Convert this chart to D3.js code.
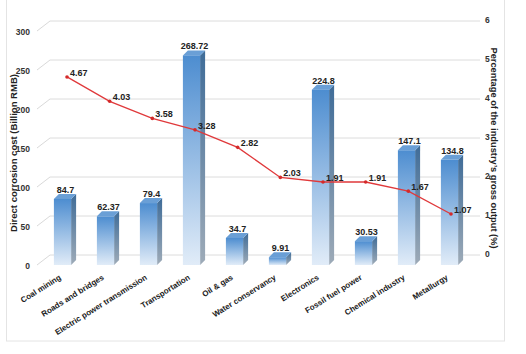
<!DOCTYPE html>
<html>
<head>
<meta charset="utf-8">
<title>Corrosion cost by industry</title>
<script src="https://cdn.jsdelivr.net/npm/d3@7"></script>
<style>
  body { margin: 0; background: #fff; }
  svg text { font-family: "Liberation Sans", Arial, sans-serif; font-weight: bold; }
</style>
</head>
<body>
<div id="chart"></div>
<script>
// data
var categories = ["Coal mining", "Roads and bridges", "Electric power transmission", "Transportation",
  "Oil & gas", "Water conservancy", "Electronics", "Fossil fuel power", "Chemical industry", "Metallurgy"];
var costs = [84.7, 62.37, 79.4, 268.72, 34.7, 9.91, 224.8, 30.53, 147.1, 134.8];
var percents = [4.67, 4.03, 3.58, 3.28, 2.82, 2.03, 1.91, 1.91, 1.67, 1.07];
var leftTicks = [0, 50, 100, 150, 200, 250, 300];
var rightTicks = [0, 1, 2, 3, 4, 5, 6];

var width = 526, height = 354;
var depthX = 5, depthY = -5;   // bar 3d depth
var wallX = 13, wallY = -10;   // back wall offset

var svg = d3.select("#chart").append("svg")
  .attr("width", width)
  .attr("height", height);

var defs = svg.append("defs");
var g1 = defs.append("linearGradient").attr("id", "front").attr("x1", 0).attr("y1", 0).attr("x2", 0).attr("y2", 1);
g1.append("stop").attr("offset", "0%").attr("stop-color", "#4d8dd0");
g1.append("stop").attr("offset", "100%").attr("stop-color", "#e1ecf8");
var g2 = defs.append("linearGradient").attr("id", "side").attr("x1", 0).attr("y1", 0).attr("x2", 0).attr("y2", 1);
g2.append("stop").attr("offset", "0%").attr("stop-color", "#3f6c98");
g2.append("stop").attr("offset", "100%").attr("stop-color", "#9eabb8");

// frame
svg.append("rect")
  .attr("x", 6.5).attr("y", -1)
  .attr("width", 498).attr("height", 342)
  .attr("fill", "none")
  .attr("stroke", "#e4e4e4");

var x = d3.scaleBand()
  .domain(categories)
  .range([41, 471])
  .paddingInner(0.6)
  .paddingOuter(0.3);
var bw = x.bandwidth();

var y = d3.scaleLinear().domain([0, 300]).range([265, 31]);
var yTick = d3.scaleLinear().domain([0, 6]).range([255, 21]);
var yLine = d3.scaleLinear().domain([0, 6]).range([254.7, 26.3]);
var xLine = d3.scalePoint().domain(categories).range([67, 451]);

// gridlines (front slant + back wall)
var grid = svg.append("g");
leftTicks.forEach(function(t) {
  var yf = y(t);
  grid.append("line")
    .attr("x1", 37).attr("y1", yf)
    .attr("x2", 37 + wallX).attr("y2", yf + wallY)
    .attr("stroke", "#d9d9d9");
  grid.append("line")
    .attr("x1", 37 + wallX).attr("y1", yf + wallY)
    .attr("x2", 480).attr("y2", yf + wallY)
    .attr("stroke", "#dcdcdc");
  grid.append("text")
    .attr("x", 30).attr("y", yf + 2)
    .attr("text-anchor", "end")
    .attr("dominant-baseline", "middle")
    .attr("font-size", 8.5)
    .attr("fill", "#333")
    .text(t);
});

// right axis labels
svg.append("g").selectAll("text")
  .data(rightTicks)
  .enter().append("text")
  .attr("x", 485)
  .attr("y", function(d) { return yTick(d); })
  .attr("dominant-baseline", "middle")
  .attr("font-size", 8.5)
  .attr("fill", "#333")
  .text(function(d) { return d; });

// bars
var bars = svg.append("g").selectAll("g")
  .data(costs)
  .enter().append("g");

bars.append("path")
  .attr("fill", "url(#side)")
  .attr("d", function(d, i) {
    var x0 = x(categories[i]) + bw, yt = y(d), yb = y(0);
    return "M" + x0 + "," + yt + "L" + (x0 + depthX) + "," + (yt + depthY) +
      "L" + (x0 + depthX) + "," + (yb + depthY) + "L" + x0 + "," + yb + "Z";
  });
bars.append("path")
  .attr("fill", "#6a9fd6")
  .attr("d", function(d, i) {
    var x0 = x(categories[i]), yt = y(d);
    return "M" + x0 + "," + yt + "L" + (x0 + bw) + "," + yt +
      "L" + (x0 + bw + depthX) + "," + (yt + depthY) + "L" + (x0 + depthX) + "," + (yt + depthY) + "Z";
  });
bars.append("rect")
  .attr("x", function(d, i) { return x(categories[i]); })
  .attr("y", function(d) { return y(d); })
  .attr("width", bw)
  .attr("height", function(d) { return y(0) - y(d); })
  .attr("fill", "url(#front)");
bars.append("text")
  .attr("x", function(d, i) { return x(categories[i]) + bw / 2 + 3; })
  .attr("y", function(d) { return y(d) - 6; })
  .attr("text-anchor", "middle")
  .attr("font-size", 9)
  .attr("fill", "#222")
  .text(function(d) { return d; });

// category labels
svg.append("g").selectAll("text")
  .data(categories)
  .enter().append("text")
  .attr("transform", function(d) {
    return "translate(" + (x(d) + bw / 2 - 2) + ",277) rotate(-32)";
  })
  .attr("text-anchor", "end")
  .attr("dominant-baseline", "middle")
  .attr("font-size", 8)
  .attr("fill", "#222")
  .text(function(d) { return d; });

// percentage line
var line = d3.line()
  .x(function(d, i) { return xLine(categories[i]); })
  .y(function(d) { return yLine(d); });
svg.append("path")
  .datum(percents)
  .attr("d", line)
  .attr("fill", "none")
  .attr("stroke", "#e0393b")
  .attr("stroke-width", 1.3);
svg.append("g").selectAll("circle")
  .data(percents)
  .enter().append("circle")
  .attr("cx", function(d, i) { return xLine(categories[i]); })
  .attr("cy", function(d) { return yLine(d); })
  .attr("r", 1.8)
  .attr("fill", "#d42a2a");
svg.append("g").selectAll("text")
  .data(percents)
  .enter().append("text")
  .attr("x", function(d, i) { return xLine(categories[i]) + 3; })
  .attr("y", function(d) { return yLine(d) - 1; })
  .attr("font-size", 9)
  .attr("fill", "#222")
  .text(function(d) { return d; });

// axis titles
svg.append("text")
  .attr("transform", "translate(17,153) rotate(-90)")
  .attr("text-anchor", "middle")
  .attr("font-size", 9.5)
  .attr("fill", "#222")
  .text("Direct corrosion cost (Billion RMB)");
svg.append("text")
  .attr("transform", "translate(491,148) rotate(90)")
  .attr("text-anchor", "middle")
  .attr("font-size", 9.3)
  .attr("fill", "#222")
  .text("Percentage of the industry\u2019s gross output (%)");
</script>
</body>
</html>
